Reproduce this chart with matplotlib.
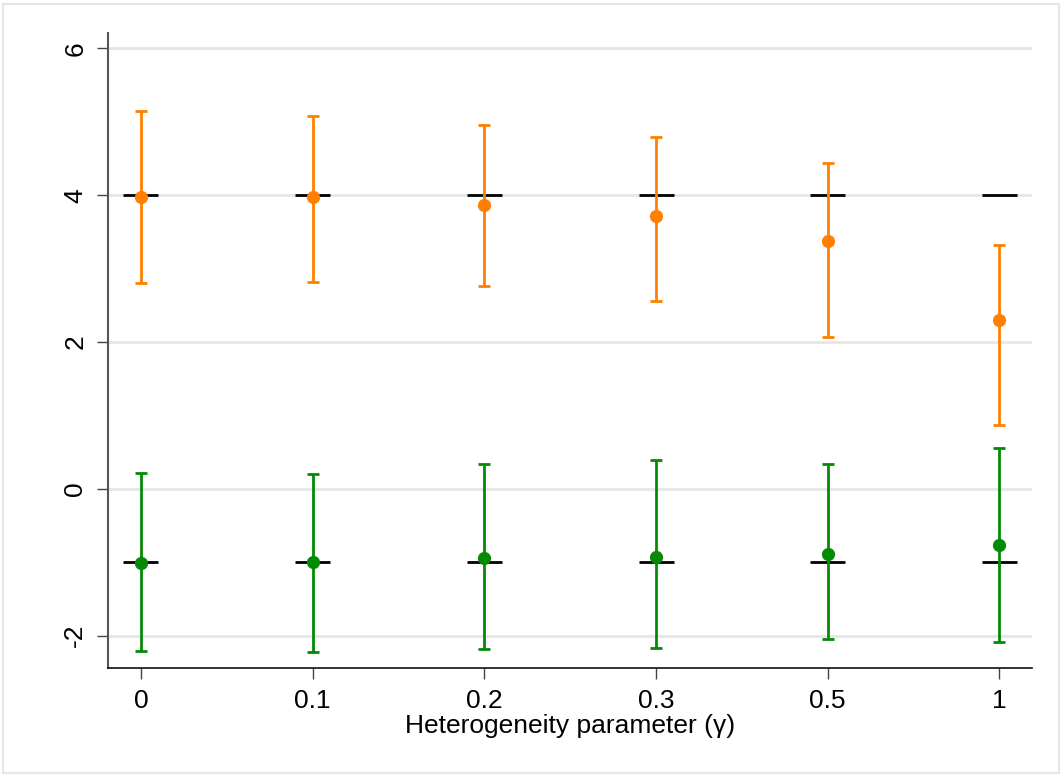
import matplotlib
matplotlib.use("Agg")
import matplotlib.pyplot as plt
from matplotlib.patches import Rectangle
import numpy as np

categories = ["0", "0.1", "0.2", "0.3", "0.5", "1"]

orange_est = [3.98, 3.98, 3.87, 3.72, 3.38, 2.30]
orange_lo = [2.80, 2.82, 2.77, 2.56, 2.07, 0.87]
orange_hi = [5.15, 5.08, 4.96, 4.80, 4.44, 3.32]
orange_true = 4.0

green_est = [-1.01, -0.99, -0.94, -0.93, -0.89, -0.76]
green_lo = [-2.21, -2.22, -2.18, -2.17, -2.04, -2.08]
green_hi = [0.22, 0.20, 0.34, 0.40, 0.34, 0.56]
green_true = -1.0

yticks = [-2, 0, 2, 4, 6]
xlabel = "Heterogeneity parameter (\u03b3)"

plt.rcParams['font.family'] = ['Liberation Sans', 'DejaVu Sans']

fig = plt.figure(figsize=(10.64, 7.76), dpi=100)
fig.patch.set_facecolor("white")
fig.patches.append(Rectangle((3/1064, 3/776), 1056/1064, 769/776, transform=fig.transFigure,
                             fill=False, edgecolor="#e6e6e6", linewidth=1.5))

ax = fig.add_axes([108/1064, 108/776, 924/1064, 635/776])
x = np.arange(len(categories))

ax.set_xlim(-0.192, 5.19)
ax.set_ylim(-2.44, 6.21)

for yt in yticks:
    ax.axhline(yt, color="#e6e6e6", linewidth=2, zorder=0)

half = 0.102
for xi in x:
    ax.hlines([orange_true, green_true], xi - half, xi + half, colors="black", linewidth=2, zorder=2)

orange_c = "#ff8000"
green_c = "#058a05"
for est, lo, hi, c in [(orange_est, orange_lo, orange_hi, orange_c),
                       (green_est, green_lo, green_hi, green_c)]:
    est = np.array(est); lo = np.array(lo); hi = np.array(hi)
    ax.errorbar(x, est, yerr=[est - lo, hi - est], fmt="o", color=c, ecolor=c,
                elinewidth=2, capsize=4.5, capthick=2, markersize=8.5, zorder=3)

fs = 19
ax.set_xticks(x)
ax.set_xticklabels(categories, fontsize=fs)
ax.set_yticks(yticks)
ax.set_yticklabels([str(v) for v in yticks], fontsize=fs, rotation=90, va="center")
ax.tick_params(axis="y", length=8, width=1, color="#444444", pad=7)
ax.tick_params(axis="x", length=8, width=1, color="#444444", pad=7)
ax.set_xlabel(xlabel, fontsize=fs, labelpad=1)

for s in ["top", "right"]:
    ax.spines[s].set_visible(False)
ax.spines["left"].set_color("#555555")
ax.spines["left"].set_linewidth(1.5)
ax.spines["bottom"].set_color("#111111")
ax.spines["bottom"].set_linewidth(1.2)

fig.savefig("out.png", dpi=100, facecolor="white")
